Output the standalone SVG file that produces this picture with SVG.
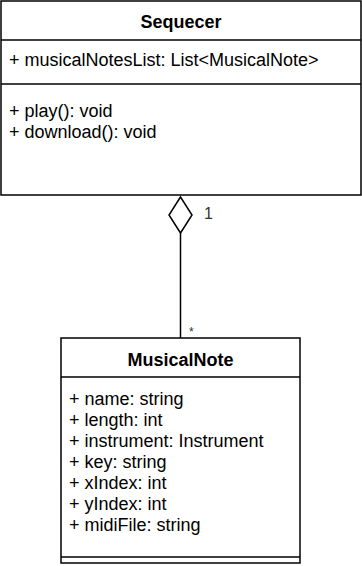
<svg xmlns="http://www.w3.org/2000/svg" width="362" height="566" viewBox="0 0 362 566">
  <style>
    .box { fill: #ffffff; stroke: #000000; stroke-width: 1.5; }
    .sep { stroke: #000000; stroke-width: 1.5; fill: none; }
    .title { font-family: "Liberation Sans", Arial, sans-serif; font-size: 18px; font-weight: bold; fill: #000000; text-anchor: middle; }
    .member { font-family: "Liberation Sans", Arial, sans-serif; font-size: 18px; fill: #000000; }
    .mult { font-family: "Liberation Sans", Arial, sans-serif; font-size: 16px; fill: #333333; }
  </style>
  <rect width="362" height="566" fill="#ffffff"/>

  <g id="Sequecer">
    <rect class="box" x="1" y="1" width="360" height="194"/>
    <line class="sep" x1="1" y1="40" x2="361" y2="40"/>
    <line class="sep" x1="1" y1="84" x2="361" y2="84"/>
    <text class="title" x="181" y="28">Sequecer</text>
    <text class="member" x="9" y="66">+ musicalNotesList: List&lt;MusicalNote&gt;</text>
    <text class="member" x="9" y="117">+ play(): void</text>
    <text class="member" x="9" y="138">+ download(): void</text>
  </g>

  <g id="MusicalNote">
    <rect class="box" x="61" y="338" width="239" height="225"/>
    <line class="sep" x1="61" y1="377" x2="300" y2="377"/>
    <line class="sep" x1="61" y1="557" x2="300" y2="557"/>
    <text class="title" x="180.5" y="366">MusicalNote</text>
    <text class="member" x="69" y="405">+ name: string</text>
    <text class="member" x="69" y="426">+ length: int</text>
    <text class="member" x="69" y="447">+ instrument: Instrument</text>
    <text class="member" x="69" y="468">+ key: string</text>
    <text class="member" x="69" y="489">+ xIndex: int</text>
    <text class="member" x="69" y="510">+ yIndex: int</text>
    <text class="member" x="69" y="531">+ midiFile: string</text>
  </g>

  <g id="connectors">
    <line class="sep" x1="180.5" y1="233" x2="180.5" y2="338"/>
    <path class="sep" d="M180.5 197 L192 215 L180.5 233 L169 215 Z" fill="#ffffff"/>
    <text class="mult" x="204" y="219">1</text>
    <text class="mult" x="189" y="336" style="font-size:12px">*</text>
  </g>
</svg>
